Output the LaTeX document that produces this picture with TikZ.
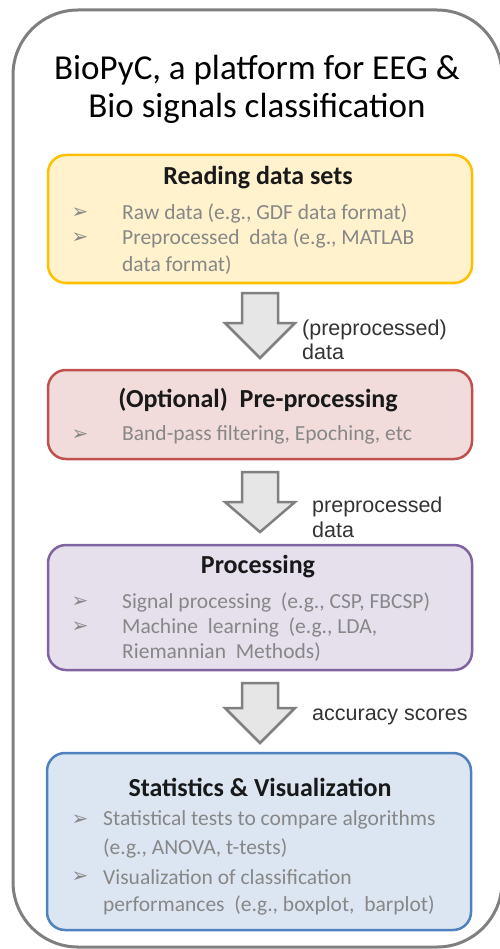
\documentclass[tikz,border=0pt]{standalone}
\usepackage{fontspec}
\setmainfont{Carlito}
\newfontfamily\helv{Liberation Sans}
\newfontfamily\dingfont{DejaVu Sans}
\definecolor{framegray}{HTML}{7F7F7F}
\definecolor{txtgray}{HTML}{878787}
\definecolor{arrgray}{HTML}{808080}
\definecolor{arrfill}{HTML}{E6E6E6}
\definecolor{readfill}{HTML}{FFF2CC}
\definecolor{readline}{HTML}{FFC000}
\definecolor{prefill}{HTML}{F2DCDB}
\definecolor{preline}{HTML}{C0504D}
\definecolor{procfill}{HTML}{E5E0EC}
\definecolor{procline}{HTML}{8064A2}
\definecolor{statfill}{HTML}{DCE6F2}
\definecolor{statline}{HTML}{4F81BD}
\begin{document}
\begin{tikzpicture}
[x=1pt,y=-1pt,
box/.style = {draw, line width=2.5pt, rounded corners=18pt, minimum width=424pt, inner sep=0pt},
head/.style = {font=\fontsize{26}{30}\selectfont\bfseries, text=black!90},
itm/.style = {anchor=west, font=\fontsize{21.5}{24}\selectfont, text=txtgray, inner sep=0pt},
bul/.style = {font=\dingfont\fontsize{20}{22}\selectfont, text=txtgray, inner sep=0pt},
blockarr/.style = {draw=arrgray, fill=arrfill, line width=2.5pt, line join=miter},
lab/.style = {anchor=west, font=\helv\fontsize{21.5}{24}\selectfont, text=black!80, inner sep=0pt},]
\useasboundingbox (0,0) rectangle (499,949);
% outer frame
\draw[framegray, line width=3pt, rounded corners=65pt] (13,10) rectangle (502,947);
\node (T1) at (257,70) [font=\fontsize{35}{40}\selectfont] {BioPyC, a platform for EEG \&};
\node (T2) at (257,108) [font=\fontsize{35}{40}\selectfont] {Bio signals classification};
% boxes
\node (read) at (260,219) [box, draw=readline, fill=readfill, minimum height=128pt] {};
\node (pre) at (260,414.5) [box, draw=preline, fill=prefill, minimum height=89pt] {};
\node (proc) at (260,607.5) [box, draw=procline, fill=procfill, minimum height=125pt] {};
\node (stat) at (259,841.5) [box, draw=statline, fill=statfill, minimum height=177pt] {};
% reading data sets
\node (readH) at (258,178) [head] {Reading data sets};
\node (readB1) at (80,213) [bul] {➢};
\node (readI1) at (122,213) [itm] {Raw data (e.g., GDF data format)};
\node (readB2) at (80,238) [bul] {➢};
\node (readI2) at (122,238) [itm] {Preprocessed\ \ data (e.g., MATLAB};
\node (readI2b) at (122,265) [itm] {data format)};
% pre-processing
\node (preH) at (258,400) [head] {(Optional)\ \ Pre-processing};
\node (preB1) at (80,435) [bul] {➢};
\node (preI1) at (122,435) [itm] {Band-pass filtering, Epoching, etc};
% processing
\node (procH) at (258,567) [head] {Processing};
\node (procB1) at (80,602) [bul] {➢};
\node (procI1) at (122,602) [itm] {Signal processing\ \ (e.g., CSP, FBCSP)};
\node (procB2) at (80,627) [bul] {➢};
\node (procI2) at (122,627) [itm] {Machine\ \ learning\ \ (e.g., LDA,};
\node (procI2b) at (122,652) [itm] {Riemannian\ \ Methods)};
% statistics
\node (statH) at (260,787) [head] {Statistics \& Visualization};
\node (statB1) at (80,820) [bul] {➢};
\node (statI1) at (103,820) [itm] {Statistical tests to compare algorithms};
\node (statI1b) at (103,848) [itm] {(e.g., ANOVA, t-tests)};
\node (statB2) at (80,877) [bul] {➢};
\node (statI2) at (103,877) [itm] {Visualization of classification};
\node (statI2b) at (103,905) [itm] {performances\ \ (e.g., boxplot,\ \ barplot)};
% block arrows
\coordinate (a1) at (260,293);
\coordinate (a2) at (260,472);
\coordinate (a3) at (260,683);
\draw[blockarr] (a1) -- ++(18,0) -- ++(0,30) -- ++(17,0) -- ++(-35,35) -- ++(-35,-35) -- ++(17,0) -- ++(0,-30) -- cycle;
\draw[blockarr] (a2) -- ++(18,0) -- ++(0,30) -- ++(17,0) -- ++(-35,30) -- ++(-35,-30) -- ++(17,0) -- ++(0,-30) -- cycle;
\draw[blockarr] (a3) -- ++(18,0) -- ++(0,25) -- ++(17,0) -- ++(-35,35) -- ++(-35,-35) -- ++(17,0) -- ++(0,-25) -- cycle;
\node (L1a) at (302,330) [lab] {(preprocessed)};
\node (L1b) at (302,352) [lab] {data};
\node (L2a) at (312,507) [lab] {preprocessed};
\node (L2b) at (312,530) [lab] {data};
\node (L3) at (312,717) [lab] {accuracy scores};
\end{tikzpicture}
\end{document}
